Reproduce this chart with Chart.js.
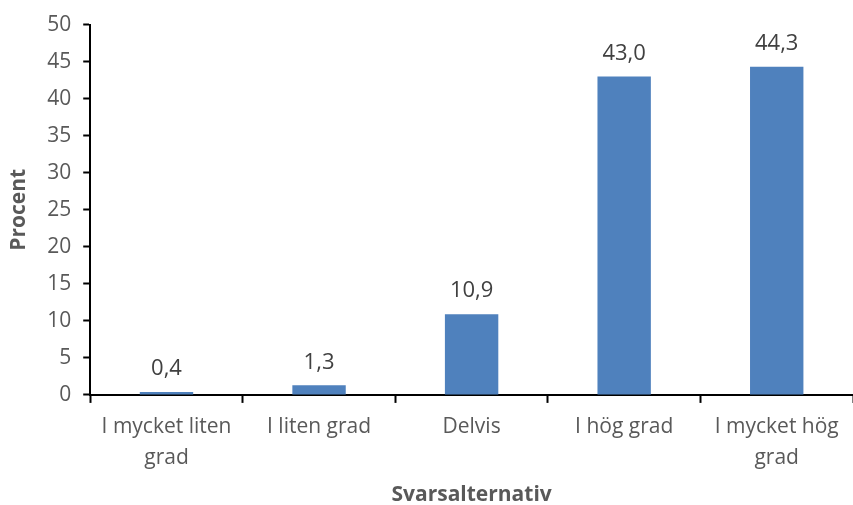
<!DOCTYPE html>
<html>
<head>
<meta charset="utf-8">
<script src="https://cdn.jsdelivr.net/npm/chart.js@4"></script>
<style>
  html, body { margin: 0; padding: 0; background: #fff; }
  #wrap { width: 853px; height: 505px; position: relative; }
</style>
</head>
<body>
<div id="wrap"><canvas id="chart"></canvas></div>
<script>
// categories and values
const categories = [
  ["I mycket liten", "grad"],
  "I liten grad",
  "Delvis",
  "I hög grad",
  ["I mycket hög", "grad"],
];
const procent = [0.4, 1.3, 10.9, 43.0, 44.3];
const yMin = 0;
const yMax = 50;
const yStep = 5;

const FONT = "'Open Sans', 'Noto Sans', sans-serif";

// value labels above bars, with decimal comma
const barLabels = {
  id: "barLabels",
  afterDatasetsDraw(chart) {
    const ctx = chart.ctx;
    const meta = chart.getDatasetMeta(0);
    ctx.save();
    ctx.font = "22px " + FONT;
    ctx.fillStyle = "#404040";
    ctx.textAlign = "center";
    ctx.textBaseline = "bottom";
    meta.data.forEach((bar, i) => {
      const txt = procent[i].toFixed(1).replace(".", ",");
      ctx.fillText(txt, bar.x, bar.y - 12);
    });
    ctx.restore();
  },
};

new Chart(document.getElementById("chart"), {
  type: "bar",
  data: {
    labels: categories,
    datasets: [
      {
        data: procent,
        backgroundColor: "#4F81BD",
        borderWidth: 0,
        categoryPercentage: 1,
        barPercentage: 0.35,
      },
    ],
  },
  options: {
    responsive: true,
    maintainAspectRatio: false,
    animation: false,
    layout: { padding: { top: 14, right: 0, left: 6, bottom: -3 } },
    plugins: {
      legend: { display: false },
      tooltip: { enabled: false },
    },
    scales: {
      x: {
        offset: true,
        grid: {
          offset: true,
          drawOnChartArea: false,
          color: "#000",
          tickLength: 8,
          tickWidth: 2,
        },
        border: { color: "#000", width: 2 },
        ticks: {
          color: "#595959",
          font: { family: FONT, size: 21, lineHeight: 1.45 },
          maxRotation: 0,
          padding: 9,
        },
        title: {
          display: true,
          text: "Svarsalternativ",
          color: "#595959",
          font: { family: FONT, size: 21, weight: "bold" },
          padding: { top: 1, bottom: 0 },
        },
      },
      y: {
        min: yMin,
        max: yMax,
        grid: {
          drawOnChartArea: false,
          color: "#000",
          tickLength: 7,
          tickWidth: 2,
        },
        border: { color: "#000", width: 2 },
        ticks: {
          stepSize: yStep,
          color: "#595959",
          font: { family: FONT, size: 21 },
          padding: 12,
        },
        title: {
          display: true,
          text: "Procent",
          color: "#595959",
          font: { family: FONT, size: 21, weight: "bold" },
          padding: { top: 0, bottom: 4 },
        },
      },
    },
  },
  plugins: [barLabels],
});
</script>
</body>
</html>
